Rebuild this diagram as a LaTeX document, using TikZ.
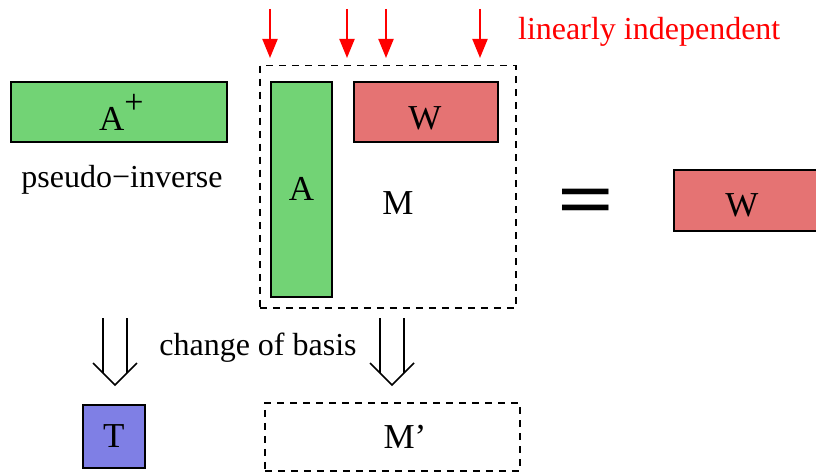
\documentclass[tikz,border=0pt]{standalone}
\usepackage{fontspec}
\setmainfont{Liberation Serif}
\usetikzlibrary{arrows.meta,calc}
\definecolor{boxgreen}{RGB}{114,211,117}
\definecolor{boxred}{RGB}{229,115,115}
\definecolor{boxblue}{RGB}{127,127,229}
\begin{document}
\begin{tikzpicture}[x=1pt,y=-1pt,
  mat/.style={draw=black,line width=1.8pt,inner sep=0pt,anchor=north west,
    font=\fontsize{34}{34}\selectfont},
  dbox/.style={draw=black,line width=1.5pt,dash pattern=on 7pt off 6pt,inner sep=0pt,anchor=north west},
  txt/.style={font=\fontsize{32}{32}\selectfont,inner sep=0pt},
  lbl/.style={font=\fontsize{35}{35}\selectfont,inner sep=0pt},
  redarrow/.style={draw=red,line width=2pt,-{Triangle[width=15pt,length=19pt]}},
  dbl/.style={line width=1.6pt,line join=miter}]
\useasboundingbox (0,0) rectangle (816,473);
% left A+
\node[mat,fill=boxgreen,minimum width=216pt,minimum height=60pt] (Ap) at (10,81) {};
\node[lbl,anchor=base west] (Aplbl) at (99,131) {A\raisebox{0.5em}{\fontsize{34}{34}\selectfont +}};
\node[txt] (pinv) at (122,180) {pseudo−inverse};
% M dashed
\node[dbox,minimum width=256pt,minimum height=242pt] (M) at (259,65) {};
\node[mat,fill=boxgreen,minimum width=61pt,minimum height=215pt] (A) at (270,81) {};
\node[lbl] at (A.center) {A};
\node[mat,fill=boxred,minimum width=144pt,minimum height=60pt] (W1) at (353,81) {};
\node[lbl] at (425,118) {W};
\node[lbl] (Mlbl) at (398,203) {M};
% equals
\node[font=\fontsize{80}{80}\selectfont\bfseries,inner sep=0pt,anchor=center] (eq) at (586,208) {\scalebox{1.25}[1]{=}};
\node[mat,fill=boxred,minimum width=160pt,minimum height=61pt] (W2) at (673,169) {};
\node[lbl] at (742,205) {W};
% red arrows
\foreach \i/\xx in {1/270,2/347,3/386,4/480}{
  \coordinate (rs\i) at (\xx,9);
  \coordinate (re\i) at (\xx,58);
  \draw[redarrow] (rs\i) -- (re\i);
}
\node[txt,text=red,anchor=west] (lin) at (518,32) {linearly independent};
% double arrows
\coordinate (d1) at (115,318);
\coordinate (d2) at (392,318);
\foreach \d in {d1,d2}{
  \draw[dbl] ($(\d)+(-12,0)$) -- ($(\d)+(-12,55)$);
  \draw[dbl] ($(\d)+(12,0)$) -- ($(\d)+(12,55)$);
  \draw[dbl] ($(\d)+(-22,45)$) -- ($(\d)+(0,67)$) -- ($(\d)+(22,45)$);
}
\node[txt] (cob) at (258,348) {change of basis};
% bottom
\node[mat,fill=boxblue,minimum width=62pt,minimum height=63pt] (T) at (82,404) {};
\node[lbl] at (T.center) {T};
\node[dbox,minimum width=255pt,minimum height=68pt] (Mp) at (264,402) {};
\node[lbl] at (405,437) {M’};
\end{tikzpicture}
\end{document}
